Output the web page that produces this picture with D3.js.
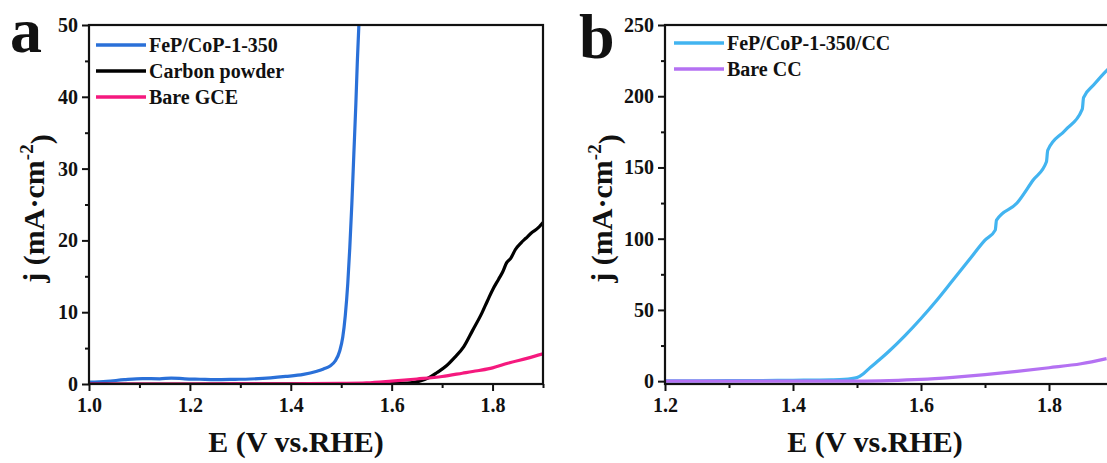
<!DOCTYPE html>
<html>
<head>
<meta charset="utf-8">
<script src="https://cdn.jsdelivr.net/npm/d3@7"></script>
<style>
  body { margin: 0; background: #ffffff; }
  svg text { font-family: "Liberation Serif", serif !important; font-weight: bold !important; }
</style>
</head>
<body>
<div id="chart"></div>
<script>
// ---- panel a data (E in V vs. RHE, j in mA cm-2) ----
const fepCopE = [1.0, 1.035, 1.07, 1.106, 1.14, 1.163, 1.19, 1.22, 1.25, 1.29, 1.32, 1.36, 1.39, 1.425, 1.45, 1.465, 1.478, 1.488, 1.497, 1.503, 1.508, 1.513, 1.517, 1.521, 1.525, 1.529, 1.532, 1.535];
const fepCopJ = [0.25, 0.37, 0.6, 0.75, 0.72, 0.83, 0.72, 0.66, 0.6, 0.65, 0.7, 0.85, 1.05, 1.35, 1.75, 2.1, 2.5, 3.2, 4.6, 6.5, 9.5, 14, 19, 25, 32, 39, 45, 50];

const carbonE = [1.0, 1.2, 1.4, 1.55, 1.6, 1.637, 1.655, 1.673, 1.69, 1.708, 1.725, 1.743, 1.76, 1.779, 1.79, 1.8, 1.812, 1.82, 1.828, 1.836, 1.845, 1.857, 1.866, 1.878, 1.888, 1.9];
const carbonJ = [0.0, 0.0, 0.02, 0.05, 0.08, 0.15, 0.4, 0.85, 1.6, 2.5, 3.7, 5.2, 7.4, 9.9, 11.6, 13.1, 14.6, 15.6, 16.9, 17.5, 18.7, 19.7, 20.3, 21.1, 21.6, 22.5];

const gceE = [1.0, 1.2, 1.4, 1.5, 1.55, 1.6, 1.65, 1.7, 1.74, 1.77, 1.8, 1.83, 1.87, 1.9];
const gceJ = [0.0, 0.0, 0.03, 0.08, 0.15, 0.4, 0.7, 1.05, 1.5, 1.85, 2.25, 2.9, 3.6, 4.2];

// ---- panel b data ----
const fepCopCCE = [1.2, 1.3, 1.4, 1.46, 1.48, 1.5, 1.51, 1.52, 1.535, 1.55, 1.575, 1.6, 1.625, 1.65, 1.675, 1.7, 1.716, 1.718, 1.75, 1.775, 1.796, 1.798, 1.825, 1.852, 1.854, 1.87, 1.89, 1.9];
const fepCopCCJ = [0.2, 0.3, 0.6, 0.9, 1.2, 2.5, 5.2, 9.3, 15, 21, 32, 44, 57, 71, 85, 99, 106, 113, 125, 141, 154, 162, 176, 191, 199, 208, 218, 222];

const bareCCE = [1.2, 1.4, 1.5, 1.55, 1.6, 1.65, 1.7, 1.75, 1.8, 1.85, 1.89];
const bareCCJ = [0.0, 0.0, 0.05, 0.4, 1.2, 2.7, 4.6, 6.8, 9.4, 12.2, 15.8];

// ---- ticks and labels ----
const ticksAX = [1.0, 1.2, 1.4, 1.6, 1.8];
const minorAX = [1.1, 1.3, 1.5, 1.7, 1.9];
const ticksAY = [0, 10, 20, 30, 40, 50];
const minorAY = [5, 15, 25, 35, 45];
const ticksBX = [1.2, 1.4, 1.6, 1.8];
const minorBX = [1.3, 1.5, 1.7, 1.9];
const ticksBY = [0, 50, 100, 150, 200, 250];
const minorBY = [25, 75, 125, 175, 225];

const legendA = ["FeP/CoP-1-350", "Carbon powder", "Bare GCE"];
const legendB = ["FeP/CoP-1-350/CC", "Bare CC"];

const FONT = "Liberation Serif";

const svg = d3.select("#chart").append("svg")
    .attr("width", 1107)
    .attr("height", 463)
    .attr("font-family", FONT)
    .attr("font-weight", "bold");

function zip(xs, ys) {
    return xs.map((x, i) => ({ x: x, y: ys[i] }));
}

function drawPanel(opt) {
    const g = svg.append("g");
    const x = d3.scaleLinear().domain(opt.xDomain).range([opt.left, opt.right]);
    const y = d3.scaleLinear().domain(opt.yDomain).range([opt.bottom, opt.top]);

    const clipId = "clip-" + opt.letter;
    svg.append("clipPath").attr("id", clipId)
        .append("rect")
        .attr("x", opt.left).attr("y", opt.top)
        .attr("width", opt.right - opt.left).attr("height", opt.bottom - opt.top);

    const line = d3.line()
        .x(d => x(d.x))
        .y(d => y(d.y))
        .curve(d3.curveMonotoneX);

    // curves
    opt.series.forEach(s => {
        g.append("path")
            .datum(zip(s.xs, s.ys))
            .attr("clip-path", `url(#${clipId})`)
            .attr("fill", "none")
            .attr("stroke", s.color)
            .attr("stroke-width", 3.2)
            .attr("stroke-linejoin", "round")
            .attr("d", line);
    });

    // axes (major + minor ticks, outward)
    const xAxis = d3.axisBottom(x).tickValues(opt.xTicks).tickFormat(d3.format(".1f"))
        .tickSizeInner(7).tickSizeOuter(0).tickPadding(5);
    const xMinor = d3.axisBottom(x).tickValues(opt.xMinor).tickFormat("").tickSizeInner(4).tickSizeOuter(0);
    const yAxis = d3.axisLeft(y).tickValues(opt.yTicks).tickFormat(d3.format("d"))
        .tickSizeInner(7).tickSizeOuter(0).tickPadding(4);
    const yMinor = d3.axisLeft(y).tickValues(opt.yMinor).tickFormat("").tickSizeInner(4).tickSizeOuter(0);

    const gx = g.append("g").attr("transform", `translate(0,${opt.bottom})`).call(xAxis);
    g.append("g").attr("transform", `translate(0,${opt.bottom})`).call(xMinor);
    const gy = g.append("g").attr("transform", `translate(${opt.left},0)`).call(yAxis);
    g.append("g").attr("transform", `translate(${opt.left},0)`).call(yMinor);

    g.selectAll(".domain").remove();
    g.selectAll("g").attr("font-family", FONT);
    g.selectAll(".tick line").attr("stroke", "#111").attr("stroke-width", 2);
    g.selectAll(".tick text").attr("fill", "#111");
    gx.selectAll("text").attr("font-size", 20).attr("dy", "0.8em");
    gy.selectAll("text").attr("font-size", 20);

    // frame
    g.append("rect")
        .attr("x", opt.left).attr("y", opt.top)
        .attr("width", opt.right - opt.left).attr("height", opt.bottom - opt.top)
        .attr("fill", "none").attr("stroke", "#111").attr("stroke-width", 2.2);

    // axis titles
    g.append("text")
        .attr("x", opt.xTitleX).attr("y", 452)
        .attr("text-anchor", "middle")
        .attr("font-size", 30)
        .attr("fill", "#111")
        .text("E (V vs.RHE)");

    const yt = g.append("text")
        .attr("transform", `translate(${opt.yTitleX},${(opt.top + opt.bottom) / 2 + 4}) rotate(-90)`)
        .attr("text-anchor", "middle")
        .attr("font-size", 30)
        .attr("fill", "#111");
    yt.append("tspan").text("j (mA·cm");
    yt.append("tspan").attr("dy", "-0.6em").attr("font-size", 19).text("-2");
    yt.append("tspan").attr("dy", "0.6em").text(")");

    // panel letter
    g.append("text")
        .attr("x", opt.letterX).attr("y", opt.letterY)
        .attr("font-size", 64)
        .attr("fill", "#111")
        .text(opt.letter);

    // legend
    opt.series.forEach((s, i) => {
        const ly = opt.legendY + i * opt.legendStep;
        g.append("line")
            .attr("x1", opt.legendX).attr("x2", opt.legendX + 50)
            .attr("y1", ly).attr("y2", ly)
            .attr("stroke", s.color).attr("stroke-width", 3.5);
        g.append("text")
            .attr("x", opt.legendX + 53).attr("y", ly)
            .attr("dy", "0.35em")
            .attr("font-size", 20)
            .attr("fill", "#111")
            .text(s.name);
    });
}

drawPanel({
    letter: "a", letterX: 10, letterY: 52,
    left: 89, right: 543, top: 25, bottom: 384,
    xDomain: [1.0, 1.9], yDomain: [0, 50],
    xTicks: ticksAX, xMinor: minorAX, yTicks: ticksAY, yMinor: minorAY,
    xTitleX: 296, yTitleX: 44,
    legendX: 96, legendY: 45, legendStep: 26,
    series: [
        { name: legendA[0], xs: fepCopE, ys: fepCopJ, color: "#2a70d8" },
        { name: legendA[1], xs: carbonE, ys: carbonJ, color: "#000000" },
        { name: legendA[2], xs: gceE, ys: gceJ, color: "#f5197e" }
    ]
});

drawPanel({
    letter: "b", letterX: 579, letterY: 58,
    left: 665, right: 1113, top: 25, bottom: 384,
    xDomain: [1.2, 1.9], yDomain: [-2, 250],
    xTicks: ticksBX, xMinor: minorBX, yTicks: ticksBY, yMinor: minorBY,
    xTitleX: 875, yTitleX: 612,
    legendX: 674, legendY: 43, legendStep: 26,
    series: [
        { name: legendB[0], xs: fepCopCCE, ys: fepCopCCJ, color: "#42b4f0" },
        { name: legendB[1], xs: bareCCE, ys: bareCCJ, color: "#b471f2" }
    ]
});
</script>
</body>
</html>
